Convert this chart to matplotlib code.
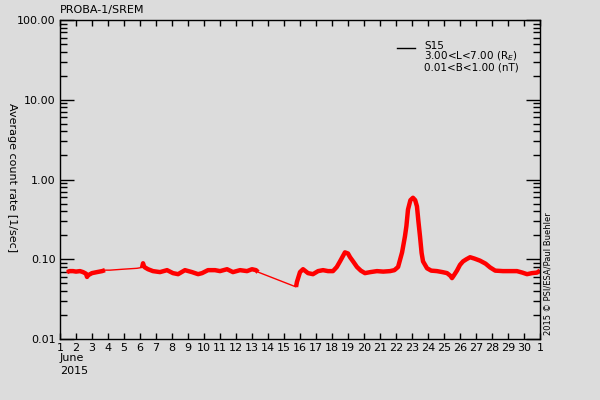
import numpy as np
import matplotlib.pyplot as plt
from matplotlib.ticker import FixedLocator, NullFormatter

# SREM S15 average count rate, June 2015
days = [1.44, 1.6, 1.81, 2.0, 2.25, 2.44, 2.62, 2.69, 2.75, 3.0, 3.31, 3.63, 3.81,
        4.13, 4.94, 5.81,
        6.13, 6.19, 6.25, 6.31, 6.5, 6.81, 7.25, 7.69, 8.06, 8.38, 8.81, 9.25, 9.63,
        9.88, 10.25, 10.69, 11.0, 11.44, 11.81, 12.25, 12.69, 13.0, 13.25, 13.38,
        15.75, 15.81, 16.0, 16.19, 16.5, 16.81, 17.13, 17.44, 17.75, 18.06, 18.3,
        18.5, 18.81, 19.0, 19.13, 19.35, 19.56, 19.8, 20.06, 20.4, 20.81, 21.2,
        21.63, 21.9, 22.13, 22.38, 22.56, 22.65, 22.75, 22.9, 23.06, 23.2, 23.31,
        23.4, 23.5, 23.6, 23.69, 23.94, 24.2, 24.56, 24.9, 25.19, 25.4, 25.5, 25.6,
        25.81, 26.0, 26.19, 26.4, 26.63, 26.9, 27.25, 27.6, 27.88, 28.2, 28.69,
        29.1, 29.56, 29.9, 30.19, 30.5, 30.81, 31.0]
rate = [0.069, 0.071, 0.071, 0.070, 0.071, 0.069, 0.066, 0.060, 0.063, 0.067, 0.069, 0.071, 0.073,
        0.073, 0.075, 0.077,
        0.079, 0.089, 0.081, 0.079, 0.075, 0.071, 0.069, 0.073, 0.067, 0.065, 0.073, 0.069, 0.065,
        0.067, 0.073, 0.073, 0.071, 0.075, 0.069, 0.073, 0.071, 0.075, 0.073, 0.069,
        0.045, 0.052, 0.069, 0.075, 0.067, 0.065, 0.071, 0.073, 0.071, 0.071, 0.080,
        0.094, 0.122, 0.118, 0.106, 0.092, 0.080, 0.072, 0.067, 0.069, 0.071, 0.070,
        0.071, 0.073, 0.080, 0.122, 0.194, 0.26, 0.42, 0.55, 0.59, 0.55, 0.46,
        0.30, 0.194, 0.12, 0.094, 0.077, 0.072, 0.071, 0.069, 0.067, 0.062, 0.058, 0.062,
        0.072, 0.085, 0.094, 0.100, 0.106, 0.102, 0.096, 0.088, 0.079, 0.072, 0.071,
        0.071, 0.071, 0.068, 0.065, 0.067, 0.068, 0.072]
# periods with data (elsewhere only the connecting line)
coverage = [(1.4, 3.85), (6.1, 13.4), (15.75, 31.0)]

ytick_vals = [0.01, 0.1, 1, 10, 100]
ytick_labels = ['0.01', '0.10', '1.00', '10.00', '100.00']
xtick_labels = [str(d) for d in range(1, 31)] + ['1']

bg = '#dcdcdc'
plt.rcParams['font.family'] = 'DejaVu Sans'
fig = plt.figure(figsize=(6, 4), dpi=100, facecolor=bg)
ax = fig.add_axes([0.1, 0.1525, 0.8, 0.7975], facecolor=bg)

d = np.array(days)
r = np.array(rate)
ax.plot(d, r, color='red', lw=1)
for a, b in coverage:
    m = (d >= a) & (d <= b)
    ax.plot(d[m], r[m], color='red', lw=3.2, solid_capstyle='butt')

ax.set_yscale('log')
ax.set_ylim(0.01, 100)
ax.set_xlim(1, 31)
ax.set_yticks(ytick_vals)
ax.set_yticklabels(ytick_labels)
minors = [m * 10.0 ** e for e in range(-2, 2) for m in range(2, 10)]
ax.yaxis.set_minor_locator(FixedLocator(minors))
ax.yaxis.set_minor_formatter(NullFormatter())
ax.set_xticks(range(1, 32))
ax.set_xticklabels(xtick_labels)
ax.xaxis.set_minor_locator(FixedLocator([]))

ax.tick_params(axis='y', which='major', direction='in', length=10, width=1,
               right=True, labelsize=8, pad=3)
ax.tick_params(axis='y', which='minor', direction='in', length=5, width=1, right=True)
ax.tick_params(axis='x', which='major', direction='in', length=4, width=1,
               top=True, labelsize=8, pad=3)
for s in ax.spines.values():
    s.set_linewidth(1)

fig.text(60/600, 1 - 10/400, 'PROBA-1/SREM', fontsize=8, ha='left', va='center')
fig.text(60/600, 1 - 358/400, 'June', fontsize=8, ha='left', va='center')
fig.text(60/600, 1 - 371/400, '2015', fontsize=8, ha='left', va='center')
fig.text(12/600, 1 - 178/400, 'Average count rate [1/sec]', fontsize=8,
         rotation=270, ha='center', va='center')
fig.text(548/600, 1 - 274/400, '2015 \u00a9 PSI/ESA/Paul Buehler', fontsize=6,
         rotation=90, ha='center', va='center')

# legend
fig.add_artist(plt.Line2D([397/600, 415/600], [1 - 48/400, 1 - 48/400], color='black', lw=1))
fig.text(424/600, 1 - 46/400, 'S15', fontsize=7.5, ha='left', va='center')
fig.text(424/600, 1 - 56.5/400, r'3.00<L<7.00 (R$_E$)', fontsize=7.5, ha='left', va='center')
fig.text(424/600, 1 - 68/400, '0.01<B<1.00 (nT)', fontsize=7.5, ha='left', va='center')

fig.savefig('out.png', dpi=100, facecolor=bg)
